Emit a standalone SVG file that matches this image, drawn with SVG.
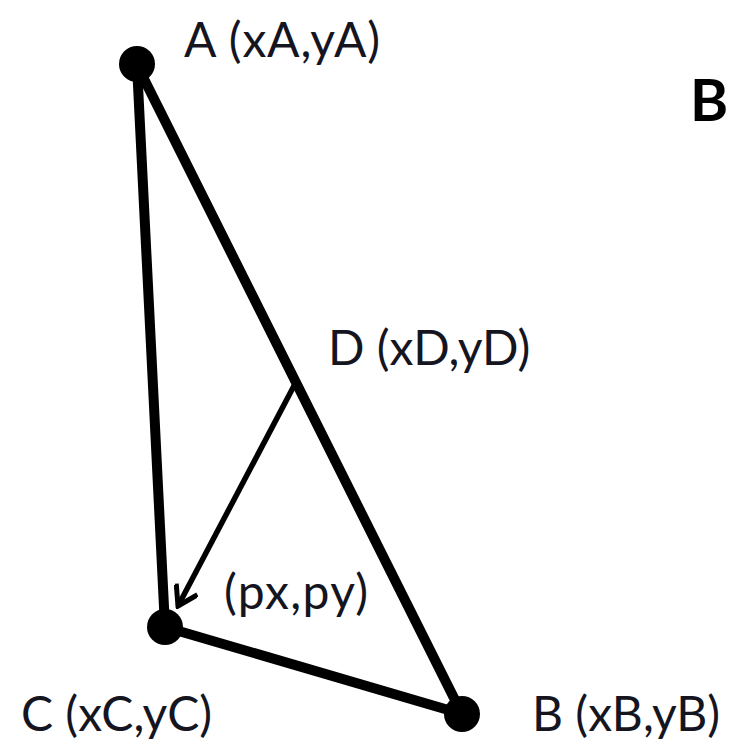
<svg xmlns="http://www.w3.org/2000/svg" width="750" height="754" viewBox="0 0 750 754">
<style>
.edge{stroke:#000;stroke-width:10;stroke-linecap:round;fill:none}
.arrow{stroke:#000;stroke-width:5.5;fill:none}
.dot{fill:#000}
.lbl{font-family:Lato,"Open Sans","Liberation Sans",sans-serif;font-size:48px;fill:#15151f}
.title{font-family:Lato,"Open Sans","Liberation Sans",sans-serif;font-size:58px;font-weight:bold;fill:#000}
</style>
<defs>
<marker id="ah" viewBox="0 0 26 26" refX="23" refY="13" markerWidth="26" markerHeight="26" markerUnits="userSpaceOnUse" orient="auto">
<path d="M4,1 L23,13 L4,25" fill="none" stroke="#000" stroke-width="5" stroke-linejoin="miter"/>
</marker>
</defs>
<rect width="750" height="754" fill="#fff"/>
<g id="connectors">
<line class="edge" x1="137" y1="65" x2="165" y2="627"/>
<line class="edge" x1="137" y1="65" x2="462" y2="714"/>
<line class="edge" x1="165" y1="627" x2="462" y2="714"/>
<line class="arrow" x1="296" y1="382" x2="178" y2="606" marker-end="url(#ah)"/>
</g>
<g id="A"><circle class="dot" cx="137" cy="64" r="18"/><text class="lbl" x="184" y="57" textLength="196">A (xA,yA)</text></g>
<g id="B"><circle class="dot" cx="462" cy="714" r="18"/><text class="lbl" x="532" y="731">B (xB,yB)</text></g>
<g id="C"><circle class="dot" cx="165" cy="627" r="18"/><text class="lbl" x="21" y="731">C (xC,yC)</text></g>
<g id="D"><text class="lbl" x="328" y="365">D (xD,yD)</text></g>
<g id="P"><text class="lbl" x="224" y="609" textLength="144">(px,py)</text></g>
<g id="title"><text class="title" x="690" y="121">B</text></g>
</svg>
